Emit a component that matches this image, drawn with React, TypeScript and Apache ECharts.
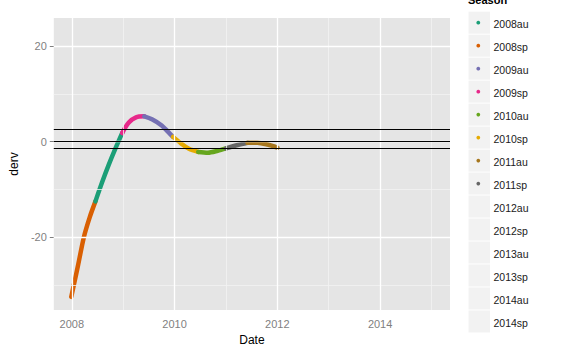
import React, { useEffect, useRef } from "react";
import * as echarts from "echarts";

const seasons = [
  "2008au", "2008sp", "2009au", "2009sp", "2010au", "2010sp", "2011au",
  "2011sp", "2012au", "2012sp", "2013au", "2013sp", "2014au", "2014sp",
];
const seasonColors: Record<string, string> = {
  "2008au": "#1B9E77",
  "2008sp": "#D95F02",
  "2009au": "#7570B3",
  "2009sp": "#E7298A",
  "2010au": "#66A61E",
  "2010sp": "#E6AB02",
  "2011au": "#A6761D",
  "2011sp": "#666666",
};

// [decimal year, derv]
const s2008sp = [[2007.99, -32.5], [2008.05, -29.5], [2008.12, -26.0], [2008.235, -20.0], [2008.35, -15.8], [2008.46, -12.5]];
const s2008au = [[2008.46, -12.5], [2008.59, -8.5], [2008.72, -4.8], [2008.85, -1.4], [2008.98, 1.8]];
const s2009sp = [[2008.98, 1.8], [2009.11, 4.0], [2009.25, 5.1], [2009.41, 5.3]];
const s2009au = [[2009.41, 5.3], [2009.56, 4.7], [2009.75, 3.4], [2009.88, 2.0], [2009.97, 1.0]];
const s2010sp = [[2009.97, 1.0], [2010.13, -0.4], [2010.28, -1.5], [2010.46, -2.15]];
const s2010au = [[2010.46, -2.15], [2010.65, -2.3], [2010.84, -1.9], [2011.0, -1.4]];
const s2011sp = [[2011.0, -1.4], [2011.23, -0.7], [2011.42, -0.25]];
const s2011au = [[2011.42, -0.25], [2011.61, -0.2], [2011.81, -0.6], [2012.0, -1.25]];

const segments: [string, number[][]][] = [
  ["2008sp", s2008sp],
  ["2008au", s2008au],
  ["2009sp", s2009sp],
  ["2009au", s2009au],
  ["2010sp", s2010sp],
  ["2010au", s2010au],
  ["2011sp", s2011sp],
  ["2011au", s2011au],
];

const xMajor = [2008, 2010, 2012, 2014];
const xMinor = [2009, 2011, 2013, 2015];
const yMajor = [-20, 0, 20];
const yMinor = [-30, -10, 10];
const hLines = [2.6, 0, -1.4];

const X_MIN = 2007.65;
const X_MAX = 2015.36;
const Y_MIN = -35.25;
const Y_MAX = 25.9;

const FONT = "Liberation Sans, Arial, sans-serif";

export default function App() {
  const ref = useRef<HTMLDivElement>(null);
  useEffect(() => {
    if (!ref.current) return;
    const chart = echarts.init(ref.current, undefined, { renderer: "svg" });

    const gridLines = [
      ...xMinor.map((v) => ({ xAxis: v, lineStyle: { color: "#F2F2F2", width: 0.8, type: "solid" } })),
      ...yMinor.map((v) => ({ yAxis: v, lineStyle: { color: "#F2F2F2", width: 0.8, type: "solid" } })),
      ...xMajor.map((v) => ({ xAxis: v, lineStyle: { color: "#FFFFFF", width: 1.3, type: "solid" } })),
      ...yMajor.map((v) => ({ yAxis: v, lineStyle: { color: "#FFFFFF", width: 1.3, type: "solid" } })),
    ];

    const legendTop = 11.7;
    const legendStep = 22.98;
    const legendGraphics: any[] = [
      {
        type: "text",
        x: 468,
        y: 5,
        style: { text: "Season", font: `bold 11px ${FONT}`, fill: "#000", verticalAlign: "bottom" },
      },
    ];
    seasons.forEach((s, i) => {
      legendGraphics.push({
        type: "rect",
        shape: { x: 468.5, y: legendTop + i * legendStep, width: 21.5, height: 22 },
        style: { fill: "#F2F2F2" },
      });
      if (seasonColors[s]) {
        legendGraphics.push({
          type: "circle",
          shape: { cx: 478.3, cy: legendTop + i * legendStep + 11, r: 1.9 },
          style: { fill: seasonColors[s] },
        });
      }
      legendGraphics.push({
        type: "text",
        x: 493.5,
        y: legendTop + i * legendStep + 12.3,
        style: {
          text: s,
          font: `10.5px ${FONT}`,
          fill: "#1a1a1a",
          verticalAlign: "middle",
          align: "left",
        },
      });
    });

    chart.setOption({
      animation: false,
      grid: {
        left: 51,
        right: 115,
        top: 18,
        bottom: 45,
        show: true,
        backgroundColor: "#E5E5E5",
        borderWidth: 0,
      },
      xAxis: {
        type: "value",
        min: X_MIN,
        max: X_MAX,
        name: "Date",
        nameLocation: "middle",
        nameGap: 21,
        nameTextStyle: { fontFamily: FONT, fontSize: 12, color: "#000" },
        axisLine: { show: false },
        splitLine: { show: false },
        axisTick: {
          show: true,
          length: 4,
          customValues: xMajor,
          lineStyle: { color: "#7F7F7F" },
        },
        axisLabel: {
          customValues: xMajor,
          margin: 8,
          fontFamily: FONT,
          fontSize: 11,
          color: "#7F7F7F",
          formatter: (v: number) => String(Math.round(v)),
        },
      },
      yAxis: {
        type: "value",
        min: Y_MIN,
        max: Y_MAX,
        name: "derv",
        nameLocation: "middle",
        nameGap: 23,
        nameRotate: 90,
        nameTextStyle: { fontFamily: FONT, fontSize: 12, color: "#000" },
        axisLine: { show: false },
        splitLine: { show: false },
        axisTick: {
          show: true,
          length: 4,
          customValues: yMajor,
          lineStyle: { color: "#7F7F7F" },
        },
        axisLabel: {
          customValues: yMajor,
          margin: 7,
          fontFamily: FONT,
          fontSize: 11,
          color: "#7F7F7F",
          formatter: (v: number) => String(Math.round(v)),
        },
      },
      graphic: legendGraphics,
      series: [
        {
          type: "line",
          data: [],
          z: 1,
          silent: true,
          markLine: {
            silent: true,
            symbol: "none",
            label: { show: false },
            data: gridLines,
          },
        },
        {
          type: "line",
          data: [],
          z: 2,
          silent: true,
          markLine: {
            silent: true,
            symbol: "none",
            label: { show: false },
            lineStyle: { color: "#000", width: 1, type: "solid" },
            data: hLines.map((v) => ({ yAxis: v })),
          },
        },
        ...segments.map(([name, data]) => ({
          type: "line",
          name,
          data,
          z: 3,
          smooth: 0.3,
          showSymbol: false,
          symbol: "none",
          lineStyle: { color: seasonColors[name], width: 4.5, cap: "round", join: "round" },
        })),
      ],
    });
    return () => chart.dispose();
  }, []);
  return (
    <div
      ref={ref}
      style={{ position: "absolute", left: 0, top: 0, width: 565, height: 355 }}
    />
  );
}
